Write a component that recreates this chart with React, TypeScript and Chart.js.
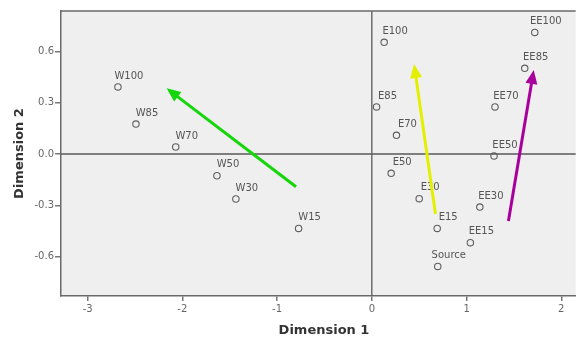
import React, { useEffect, useRef } from "react";
import { Chart, registerables } from "chart.js";

Chart.register(...registerables);

const pointLabels = ["W100", "W85", "W70", "W50", "W30", "W15", "E100", "E85", "E70", "E50", "E30", "E15", "EE100", "EE85", "EE70", "EE50", "EE30", "EE15", "Source"];
const dim1 = [-2.68, -2.49, -2.07, -1.635, -1.435, -0.773, 0.13, 0.05, 0.26, 0.204, 0.5, 0.69, 1.72, 1.614, 1.3, 1.29, 1.14, 1.04, 0.696];
const dim2 = [0.392, 0.175, 0.041, -0.127, -0.263, -0.435, 0.653, 0.275, 0.109, -0.113, -0.261, -0.435, 0.711, 0.501, 0.275, -0.012, -0.31, -0.518, -0.657];

const xTicks = [-3, -2, -1, 0, 1, 2];
const yTicks = [-0.6, -0.3, 0, 0.3, 0.6];

const arrowFromX = [-0.8, 0.672, 1.442];
const arrowFromY = [-0.191, -0.351, -0.392];
const arrowToX = [-2.166, 0.446, 1.709];
const arrowToY = [0.384, 0.526, 0.491];
const arrowColors = ["#14d60a", "#e4ef00", "#a8009a"];

const FONT = "'DejaVu Sans', sans-serif";

const decorPlugin = {
  id: "decor",
  beforeDraw(chart: any) {
    const { ctx, chartArea } = chart;
    ctx.save();
    ctx.fillStyle = "#efefef";
    ctx.fillRect(chartArea.left, chartArea.top, chartArea.right - chartArea.left, chartArea.bottom - chartArea.top);
    ctx.restore();
  },
  beforeDatasetsDraw(chart: any) {
    const { ctx, chartArea, scales } = chart;
    const x0 = scales.x.getPixelForValue(0);
    const y0 = scales.y.getPixelForValue(0);
    ctx.save();
    ctx.strokeStyle = "#5a5a5a";
    ctx.lineWidth = 1.3;
    ctx.beginPath();
    ctx.moveTo(x0, chartArea.top);
    ctx.lineTo(x0, chartArea.bottom);
    ctx.moveTo(chartArea.left, y0);
    ctx.lineTo(chartArea.right, y0);
    ctx.stroke();
    // top border
    ctx.strokeStyle = "#6a6a6a";
    ctx.lineWidth = 1.5;
    ctx.beginPath();
    ctx.moveTo(chartArea.left, chartArea.top);
    ctx.lineTo(chartArea.right, chartArea.top);
    ctx.stroke();
    ctx.restore();
  },
  afterDatasetsDraw(chart: any) {
    const { ctx, scales } = chart;
    const meta = chart.getDatasetMeta(0);
    ctx.save();
    ctx.fillStyle = "#555555";
    ctx.font = "10px " + FONT;
    ctx.textAlign = "center";
    ctx.textBaseline = "middle";
    meta.data.forEach((el: any, i: number) => {
      ctx.fillText(pointLabels[i], el.x + 11, el.y - 11);
    });
    // arrows
    for (let i = 0; i < arrowFromX.length; i++) {
      const x1 = scales.x.getPixelForValue(arrowFromX[i]);
      const y1 = scales.y.getPixelForValue(arrowFromY[i]);
      const x2 = scales.x.getPixelForValue(arrowToX[i]);
      const y2 = scales.y.getPixelForValue(arrowToY[i]);
      const ang = Math.atan2(y2 - y1, x2 - x1);
      const headLen = 14;
      const headHalf = 6;
      const bx = x2 - headLen * Math.cos(ang);
      const by = y2 - headLen * Math.sin(ang);
      ctx.strokeStyle = arrowColors[i];
      ctx.fillStyle = arrowColors[i];
      ctx.lineWidth = 3;
      ctx.lineCap = "butt";
      ctx.beginPath();
      ctx.moveTo(x1, y1);
      ctx.lineTo(bx + 2 * Math.cos(ang), by + 2 * Math.sin(ang));
      ctx.stroke();
      ctx.beginPath();
      ctx.moveTo(x2, y2);
      ctx.lineTo(bx + headHalf * Math.sin(ang), by - headHalf * Math.cos(ang));
      ctx.lineTo(bx - headHalf * Math.sin(ang), by + headHalf * Math.cos(ang));
      ctx.closePath();
      ctx.fill();
    }
    ctx.restore();
  },
  afterDraw(chart: any) {
    const { ctx, chartArea } = chart;
    ctx.save();
    ctx.fillStyle = "#333333";
    ctx.font = "bold 13px " + FONT;
    ctx.textAlign = "center";
    ctx.textBaseline = "middle";
    ctx.fillText("Dimension 1", 324, 331);
    ctx.translate(20, (chartArea.top + chartArea.bottom) / 2);
    ctx.rotate(-Math.PI / 2);
    ctx.fillText("Dimension 2", 0, 0);
    ctx.restore();
  },
};

export default function App() {
  const ref = useRef<HTMLCanvasElement>(null);
  useEffect(() => {
    if (!ref.current) return;
    const chart = new Chart(ref.current, {
      type: "scatter",
      data: {
        datasets: [
          {
            data: dim1.map((x, i) => ({ x, y: dim2[i] })),
            pointRadius: 3.2,
            pointHoverRadius: 3.2,
            pointBackgroundColor: "rgba(0,0,0,0)",
            pointBorderColor: "#5e5e5e",
            pointBorderWidth: 1.1,
          },
        ],
      },
      options: {
        responsive: false,
        animation: false,
        events: [],
        layout: { padding: { top: 11, left: 0, right: 0, bottom: 0 } },
        plugins: { legend: { display: false }, tooltip: { enabled: false } },
        scales: {
          x: {
            type: "linear",
            min: -3.281,
            max: 2.152,
            afterBuildTicks: (s: any) => {
              s.ticks = xTicks.map((v) => ({ value: v }));
            },
            afterFit: (s: any) => {
              s.height = 42;
              s.paddingLeft = 0;
              s.paddingRight = 0;
            },
            grid: { display: true, drawOnChartArea: false, drawTicks: true, tickLength: 5, color: "#777", lineWidth: 1.5 },
            border: { display: true, color: "#6a6a6a", width: 1.5 },
            ticks: {
              padding: 2,
              color: "#666",
              font: { family: FONT, size: 10 },
              callback: (v: any) => String(v),
            },
          },
          y: {
            type: "linear",
            min: -0.83,
            max: 0.836,
            afterBuildTicks: (s: any) => {
              s.ticks = yTicks.map((v) => ({ value: v }));
            },
            afterFit: (s: any) => {
              s.width = 61;
              s.paddingTop = 0;
              s.paddingBottom = 0;
            },
            grid: { display: true, drawOnChartArea: false, drawTicks: true, tickLength: 6, color: "#777", lineWidth: 1.5 },
            border: { display: true, color: "#6a6a6a", width: 1.5 },
            ticks: {
              padding: 1,
              color: "#666",
              font: { family: FONT, size: 10 },
              callback: (v: any) => Number(v).toFixed(1),
            },
          },
        },
      },
      plugins: [decorPlugin],
    } as any);
    return () => chart.destroy();
  }, []);
  return (
    <div style={{ position: "absolute", left: 0, top: 0, width: 576, height: 338, overflow: "hidden", background: "#fff" }}>
      <canvas ref={ref} width={580} height={338} style={{ display: "block" }} />
    </div>
  );
}
